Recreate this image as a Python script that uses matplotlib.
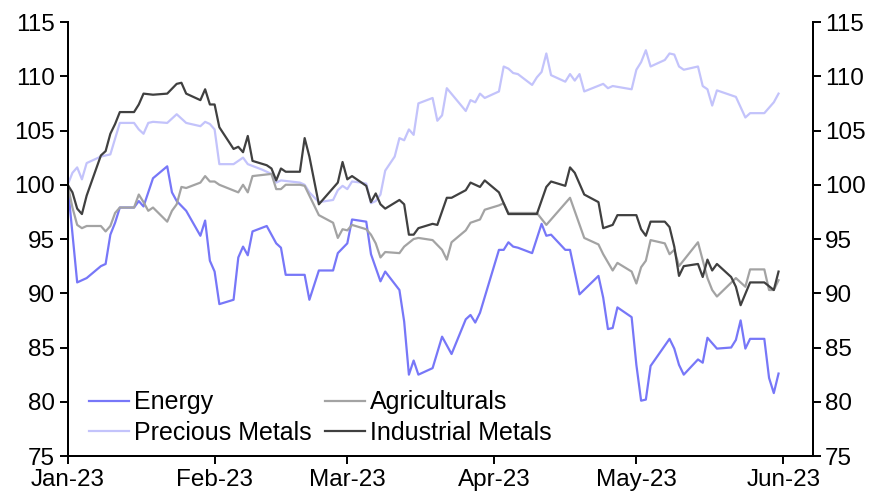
import matplotlib.pyplot as plt
import matplotlib.dates as mdates
import pandas as pd

plt.rcParams['font.family'] = ['Liberation Sans', 'DejaVu Sans']

# Energy
energy_dates = ['2023-01-01', '2023-01-03', '2023-01-05', '2023-01-08', '2023-01-09', '2023-01-10', '2023-01-11',
                '2023-01-12', '2023-01-15', '2023-01-16', '2023-01-17', '2023-01-19', '2023-01-22', '2023-01-23',
                '2023-01-24', '2023-01-26', '2023-01-29', '2023-01-30', '2023-01-31',
                '2023-02-01', '2023-02-02', '2023-02-05', '2023-02-06', '2023-02-07', '2023-02-08', '2023-02-09',
                '2023-02-12', '2023-02-13', '2023-02-14', '2023-02-15', '2023-02-16', '2023-02-20', '2023-02-21',
                '2023-02-23', '2023-02-26', '2023-02-27',
                '2023-03-01', '2023-03-02', '2023-03-05', '2023-03-06', '2023-03-08', '2023-03-09', '2023-03-12',
                '2023-03-13', '2023-03-14', '2023-03-15', '2023-03-16', '2023-03-19', '2023-03-21', '2023-03-23',
                '2023-03-26', '2023-03-27', '2023-03-28', '2023-03-29',
                '2023-04-02', '2023-04-03', '2023-04-04', '2023-04-05', '2023-04-06', '2023-04-09', '2023-04-11',
                '2023-04-12', '2023-04-13', '2023-04-16', '2023-04-17', '2023-04-19', '2023-04-23', '2023-04-24',
                '2023-04-25', '2023-04-26', '2023-04-27', '2023-04-30',
                '2023-05-01', '2023-05-02', '2023-05-03', '2023-05-04', '2023-05-08', '2023-05-09', '2023-05-10',
                '2023-05-11', '2023-05-14', '2023-05-15', '2023-05-16', '2023-05-18', '2023-05-21', '2023-05-22',
                '2023-05-23', '2023-05-24', '2023-05-25', '2023-05-28', '2023-05-29', '2023-05-30', '2023-05-31']
energy = [100, 91.0, 91.4, 92.5, 92.7, 95.4, 96.5, 97.9, 97.9, 98.5, 98.0, 100.6, 101.7, 99.3, 98.5, 97.6, 95.3,
          96.7, 93.0,
          92.0, 89.0, 89.4, 93.3, 94.3, 93.5, 95.7, 96.2, 95.4, 94.6, 94.2, 91.7, 91.7, 89.4, 92.1, 92.1, 93.7,
          94.6, 96.8, 96.6, 93.6, 91.1, 92.0, 90.3, 87.4, 82.5, 83.8, 82.5, 83.1, 86.0, 84.4, 87.6, 88.0, 87.3, 88.2,
          94.0, 94.0, 94.7, 94.3, 94.2, 93.7, 96.4, 95.3, 95.4, 94.0, 94.0, 89.9, 91.6, 89.6, 86.7, 86.8, 88.7, 87.8,
          83.4, 80.1, 80.2, 83.3, 85.8, 84.9, 83.4, 82.5, 83.9, 83.6, 85.9, 84.9, 85.0, 85.7, 87.5, 84.9, 85.8, 85.8,
          82.2, 80.8, 82.6]

# Precious Metals
precious_dates = ['2023-01-01', '2023-01-02', '2023-01-03', '2023-01-04', '2023-01-05', '2023-01-08', '2023-01-10',
                  '2023-01-12', '2023-01-15', '2023-01-16', '2023-01-17', '2023-01-18', '2023-01-19', '2023-01-22',
                  '2023-01-24', '2023-01-26', '2023-01-29', '2023-01-30', '2023-01-31',
                  '2023-02-01', '2023-02-02', '2023-02-05', '2023-02-07', '2023-02-08', '2023-02-11', '2023-02-13',
                  '2023-02-14', '2023-02-15', '2023-02-19', '2023-02-20', '2023-02-21', '2023-02-23', '2023-02-26',
                  '2023-02-27', '2023-02-28',
                  '2023-03-01', '2023-03-02', '2023-03-04', '2023-03-05', '2023-03-06', '2023-03-07', '2023-03-08',
                  '2023-03-09', '2023-03-11', '2023-03-12', '2023-03-13', '2023-03-14', '2023-03-15', '2023-03-16',
                  '2023-03-19', '2023-03-20', '2023-03-21', '2023-03-22', '2023-03-26', '2023-03-27', '2023-03-28',
                  '2023-03-29', '2023-03-30',
                  '2023-04-02', '2023-04-03', '2023-04-04', '2023-04-05', '2023-04-06', '2023-04-09', '2023-04-10',
                  '2023-04-11', '2023-04-12', '2023-04-13', '2023-04-16', '2023-04-17', '2023-04-18', '2023-04-19',
                  '2023-04-20', '2023-04-24', '2023-04-25', '2023-04-26', '2023-04-30',
                  '2023-05-01', '2023-05-02', '2023-05-03', '2023-05-04', '2023-05-07', '2023-05-08', '2023-05-09',
                  '2023-05-10', '2023-05-11', '2023-05-14', '2023-05-15', '2023-05-16', '2023-05-17', '2023-05-18',
                  '2023-05-22', '2023-05-24', '2023-05-25', '2023-05-28', '2023-05-30', '2023-05-31']
precious = [100.0, 101.1, 101.6, 100.5, 102.0, 102.6, 102.8, 105.7, 105.7, 105.1, 104.7, 105.7, 105.8, 105.7,
            106.5, 105.7, 105.4, 105.8, 105.6,
            105.1, 101.9, 101.9, 102.5, 101.9, 101.4, 101.0, 100.2, 100.4, 100.2, 100.0, 99.3, 98.4, 98.6, 99.5, 99.9,
            99.6, 100.3, 100.2, 100.1, 98.3, 98.5, 99.1, 101.3, 102.6, 104.3, 104.1, 105.1, 104.6, 107.5, 108.0,
            105.9, 106.4, 108.9, 106.8, 107.8, 107.6, 108.4, 108.0,
            108.6, 110.9, 110.7, 110.3, 110.2, 109.2, 109.9, 110.4, 112.1, 110.1, 109.5, 110.2, 109.6, 110.2, 108.6,
            109.3, 108.9, 109.1, 108.8,
            110.6, 111.3, 112.4, 110.9, 111.5, 112.1, 112.0, 110.9, 110.6, 110.9, 109.1, 108.8, 107.3, 108.7, 108.1,
            106.2, 106.6, 106.6, 107.6, 108.4]

# Agriculturals
agri_dates = ['2023-01-01', '2023-01-02', '2023-01-03', '2023-01-04', '2023-01-05', '2023-01-08', '2023-01-09',
              '2023-01-10', '2023-01-11', '2023-01-12', '2023-01-15', '2023-01-16', '2023-01-17', '2023-01-18',
              '2023-01-19', '2023-01-22', '2023-01-23', '2023-01-24', '2023-01-25', '2023-01-26', '2023-01-29',
              '2023-01-30', '2023-01-31',
              '2023-02-01', '2023-02-02', '2023-02-06', '2023-02-07', '2023-02-08', '2023-02-09', '2023-02-13',
              '2023-02-14', '2023-02-15', '2023-02-16', '2023-02-19', '2023-02-20', '2023-02-21', '2023-02-23',
              '2023-02-26', '2023-02-27', '2023-02-28',
              '2023-03-01', '2023-03-02', '2023-03-05', '2023-03-06', '2023-03-07', '2023-03-08', '2023-03-09',
              '2023-03-12', '2023-03-13', '2023-03-15', '2023-03-16', '2023-03-19', '2023-03-21', '2023-03-22',
              '2023-03-23', '2023-03-26', '2023-03-27', '2023-03-29', '2023-03-30',
              '2023-04-02', '2023-04-03', '2023-04-04', '2023-04-10', '2023-04-12', '2023-04-17', '2023-04-20',
              '2023-04-23', '2023-04-24', '2023-04-26', '2023-04-27', '2023-04-30',
              '2023-05-01', '2023-05-02', '2023-05-03', '2023-05-04', '2023-05-07', '2023-05-08', '2023-05-09',
              '2023-05-10', '2023-05-14', '2023-05-16', '2023-05-17', '2023-05-18', '2023-05-22', '2023-05-24',
              '2023-05-25', '2023-05-28', '2023-05-29', '2023-05-30', '2023-05-31']
agri = [100, 97.9, 96.3, 96.0, 96.2, 96.2, 95.7, 96.2, 97.4, 97.9, 97.9, 99.1, 98.4, 97.6, 97.9, 96.6, 97.6, 98.2,
        99.8, 99.7, 100.2, 100.8, 100.3,
        100.3, 100.0, 99.3, 100.0, 99.3, 100.8, 101.0, 99.6, 99.6, 100.0, 100.0, 99.9, 99.0, 97.2, 96.5, 95.1, 95.9,
        95.8, 96.3, 95.9, 95.4, 94.6, 93.3, 93.8, 93.7, 94.3, 95.0, 95.1, 94.9, 94.0, 93.1, 94.7, 95.8, 96.5, 96.8,
        97.7,
        98.1, 98.3, 97.4, 97.4, 96.3, 98.8, 95.1, 94.5, 93.6, 92.1, 92.8, 92.0,
        90.9, 92.4, 93.0, 94.9, 94.6, 93.6, 94.0, 92.5, 94.7, 91.4, 90.3, 89.7, 91.4, 90.6, 92.2, 92.2, 90.3, 90.3,
        91.2]

# Industrial Metals
industrial_dates = ['2023-01-01', '2023-01-02', '2023-01-03', '2023-01-04', '2023-01-05', '2023-01-08', '2023-01-09',
                    '2023-01-10', '2023-01-11', '2023-01-12', '2023-01-15', '2023-01-16', '2023-01-17', '2023-01-19',
                    '2023-01-22', '2023-01-24', '2023-01-25', '2023-01-26', '2023-01-29', '2023-01-30', '2023-01-31',
                    '2023-02-01', '2023-02-02', '2023-02-05', '2023-02-06', '2023-02-07', '2023-02-08', '2023-02-09',
                    '2023-02-12', '2023-02-13', '2023-02-14', '2023-02-15', '2023-02-16', '2023-02-19', '2023-02-20',
                    '2023-02-21', '2023-02-23', '2023-02-27', '2023-02-28',
                    '2023-03-01', '2023-03-02', '2023-03-05', '2023-03-06', '2023-03-07', '2023-03-08', '2023-03-09',
                    '2023-03-12', '2023-03-13', '2023-03-14', '2023-03-15', '2023-03-16', '2023-03-19', '2023-03-20',
                    '2023-03-22', '2023-03-23', '2023-03-26', '2023-03-27', '2023-03-29', '2023-03-30',
                    '2023-04-02', '2023-04-04', '2023-04-10', '2023-04-12', '2023-04-13', '2023-04-16', '2023-04-17',
                    '2023-04-18', '2023-04-20', '2023-04-23', '2023-04-24', '2023-04-26', '2023-04-27',
                    '2023-05-01', '2023-05-02', '2023-05-03', '2023-05-04', '2023-05-07', '2023-05-08', '2023-05-09',
                    '2023-05-10', '2023-05-11', '2023-05-14', '2023-05-15', '2023-05-16', '2023-05-17', '2023-05-18',
                    '2023-05-21', '2023-05-22', '2023-05-23', '2023-05-25', '2023-05-28', '2023-05-30', '2023-05-31']
industrial = [100, 99.3, 97.8, 97.3, 99.0, 102.7, 103.1, 104.7, 105.6, 106.7, 106.7, 107.4, 108.4, 108.3, 108.4,
              109.3, 109.4, 108.4, 107.8, 108.8, 107.4,
              107.4, 105.3, 103.3, 103.5, 103.0, 104.5, 102.2, 101.8, 101.5, 100.4, 101.5, 101.2, 101.2, 104.3,
              102.6, 98.2, 100.2, 102.1,
              100.5, 100.8, 99.9, 98.4, 99.2, 98.2, 97.8, 98.6, 98.2, 95.4, 95.4, 96.0, 96.4, 96.3, 98.8, 98.8, 99.5,
              100.2, 99.8, 100.4,
              99.3, 97.3, 97.3, 99.8, 100.3, 99.9, 101.6, 101.1, 99.1, 98.4, 96.0, 96.3, 97.2,
              97.2, 95.9, 95.3, 96.6, 96.6, 96.1, 94.3, 91.6, 92.5, 92.7, 91.5, 93.1, 92.1, 92.7, 91.5, 90.6, 88.9,
              91.0, 91.0, 90.3, 92.0]

series = [
    ('Energy', energy_dates, energy, '#7777f8'),
    ('Precious Metals', precious_dates, precious, '#c3c3fb'),
    ('Agriculturals', agri_dates, agri, '#a3a3a3'),
    ('Industrial Metals', industrial_dates, industrial, '#404040'),
]

fig = plt.figure(figsize=(8.85, 4.98), dpi=100)
ax = fig.add_axes([0.0765, 0.0843, 0.8418, 0.8715])

lines = {}
for name, d, v, c in series:
    lines[name], = ax.plot(pd.to_datetime(d), v, color=c, lw=1.6, label=name)

ax.set_ylim(75, 115)
ax.set_yticks(range(75, 116, 5))
ax.set_xlim(pd.Timestamp('2023-01-01'), pd.Timestamp('2023-06-07 05:00'))
ax.xaxis.set_major_locator(mdates.MonthLocator())
ax.xaxis.set_major_formatter(mdates.DateFormatter('%b-%y'))

ax2 = ax.twinx()
ax2.set_ylim(75, 115)
ax2.set_yticks(range(75, 116, 5))

for a in (ax, ax2):
    for s in a.spines.values():
        s.set_linewidth(1.4)
    a.spines['top'].set_visible(False)
    a.tick_params(labelsize=17.5, width=1.4, length=6, direction='out', pad=3)

order = ['Energy', 'Precious Metals', 'Agriculturals', 'Industrial Metals']
ax.legend([lines[n] for n in order], order, ncol=2, loc='lower left', frameon=False, fontsize=18,
          handlelength=1.6, handletextpad=0.2, columnspacing=0.55, labelspacing=0.25,
          bbox_to_anchor=(0.005, -0.014), borderaxespad=0.3)

fig.savefig('out.png', dpi=100)
